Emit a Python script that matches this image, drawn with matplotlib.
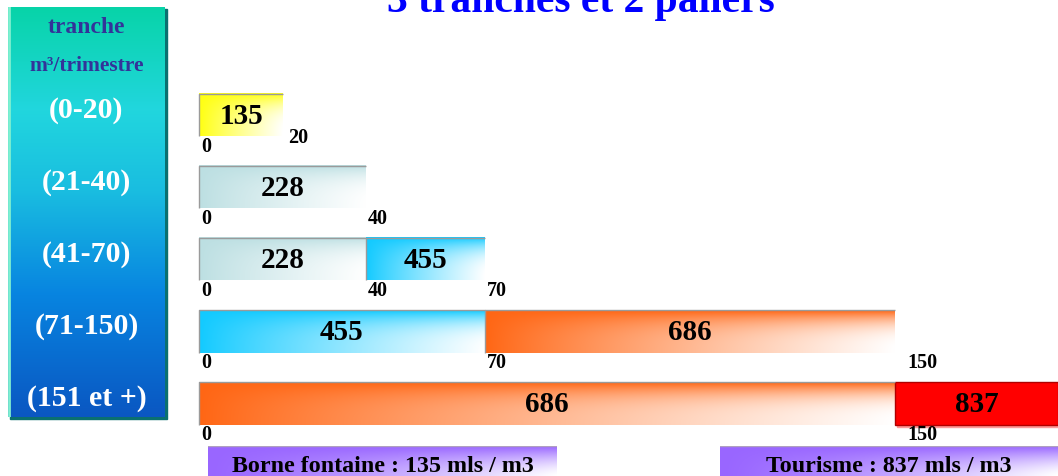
import numpy as np
import matplotlib
matplotlib.use("Agg")
import matplotlib.pyplot as plt
from matplotlib.transforms import BboxTransformTo, TransformedBbox, blended_transform_factory, offset_copy
from matplotlib.colors import to_rgb

plt.rcParams['font.family'] = ['Liberation Serif', 'DejaVu Serif']
plt.rcParams['font.weight'] = 'bold'

# ---------------- data ----------------
title = "3 tranches et 2 paliers"
header = ["tranche", "m³/trimestre"]
categories = ["(0-20)", "(21-40)", "(41-70)", "(71-150)", "(151 et +)"]

# segments per row: start, end (m3/trimestre), price label
seg_start = [[0], [0], [0, 40], [0, 70], [0, 150]]
seg_end = [[20], [40], [40, 70], [70, 150], [150, 190]]
seg_price = [[135], [228], [228, 455], [455, 686], [686, 837]]
seg_kind = [["t0"], ["t1"], ["t1", "t2"], ["t2", "t3"], ["t3", "tour"]]
row_ticks = [[0, 20], [0, 40], [0, 40, 70], [0, 70, 150], [0, 150]]
paliers = ["Borne fontaine : 135 mls / m3", "Tourisme : 837 mls / m3"]

# ---------------- style ----------------
kind_color = {"t0": "#ffff10", "t1": "#bcdfe2", "t2": "#12caff",
              "t3": "#ff6614", "tour": "#ff0000"}
# display scale (the picture is not proportional): breakpoints -> relative position
scale_in = [-50, 0, 20, 40, 70, 150, 190]
scale_out = [0, 199, 283, 366, 485, 895, 1058]

W, H = 1058, 477
fig = plt.figure(figsize=(W / 100, H / 100), dpi=100)
ax = fig.add_axes([0, 0, 1, 1])
ax.set_xscale('function', functions=(lambda x: np.interp(x, scale_in, scale_out),
                                     lambda p: np.interp(p, scale_out, scale_in)))
row_px0, row_step = 116, 72.1
ax.set_xlim(scale_in[0], scale_in[-1])
ax.set_ylim((H - row_px0) / row_step, -row_px0 / row_step)
ax.axis('off')


def gradient(color, n=60, m=200, pu=0.9, vpow=3, strength=1.0):
    c = np.array(to_rgb(color))
    v = np.linspace(0, 1, n)[:, None]
    u = np.linspace(0, 1, m)[None, :]
    w = np.clip((u ** pu) * (1 - (1 - v) ** vpow) * strength, 0, 1)[..., None]
    return c * (1 - w) + np.ones(3) * w


bar_h = 0.59
for i in range(len(categories)):
    for s, e, p, k in zip(seg_start[i], seg_end[i], seg_price[i], seg_kind[i]):
        rect = ax.barh(i, e - s, left=s, height=bar_h, color='none',
                       edgecolor='none')[0]
        tr = BboxTransformTo(TransformedBbox(rect.get_bbox(), ax.transData))
        if k == "tour":
            ax.add_patch(plt.Rectangle((0.012, -0.06), 1, 1, transform=tr,
                                       color='#ff9a9a', zorder=1))
            ax.add_patch(plt.Rectangle((0, 0), 1, 1, transform=tr,
                                       facecolor='#ff0000', edgecolor='#b00000',
                                       lw=1.0, zorder=2))
        else:
            ax.imshow(gradient(kind_color[k]), extent=(0, 1, 0, 1), origin='upper',
                      transform=tr, aspect='auto', interpolation='bilinear', zorder=2)
            ax.plot([0, 0, 1], [0, 1, 1], transform=tr, color='#9a9a9a', lw=1.0,
                    zorder=3, solid_capstyle='butt')
        ax.text(0.5, 0.5, str(p), transform=tr, ha='center', va='center',
                fontsize=21, color='black', zorder=4)
    for t in row_ticks[i]:
        dx = 12 if t == 150 else (5 if t == 20 else 2)
        dy = 0.31 if t == 20 else 0.43
        off = offset_copy(ax.transData, fig=fig, x=dx, y=0, units='dots')
        ax.text(t, i + dy, str(t), transform=off, ha='left', va='center',
                fontsize=14.5, color='black', zorder=4)

ax.set_xlim(scale_in[0], scale_in[-1])
ax.set_ylim((H - row_px0) / row_step, -row_px0 / row_step)

# ---------------- left panel ----------------
px0, py0, pw, ph = 8, 8, 157, 410
shadow = plt.Rectangle(((px0 + 2) / W, (H - py0 - ph - 2) / H), pw / W, ph / H,
                       transform=fig.transFigure, color='#0a7070', zorder=-5)
fig.patches.append(shadow)
pan = fig.add_axes([px0 / W, (H - py0 - ph) / H, pw / W, ph / H], zorder=2)
stops_y = [0.0, 0.25, 0.45, 0.7, 1.0]
stops_c = [(0.03, 0.83, 0.66), (0.13, 0.84, 0.87), (0.1, 0.74, 0.88),
           (0.03, 0.52, 0.88), (0.04, 0.34, 0.76)]
yy = np.linspace(0, 1, 300)
col = np.stack([np.interp(yy, stops_y, [c[j] for c in stops_c]) for j in range(3)], axis=-1)
pan.imshow(col[:, None, :], extent=(0, 1, 0, 1), aspect='auto', origin='upper',
           interpolation='bilinear')
pan.plot([0.004, 0.004], [0, 1], color='#80f0d0', lw=2)
pan.set_xlim(0, 1)
pan.set_ylim(0, 1)
pan.axis('off')
pan.text(0.5, 0.953, header[0], transform=pan.transAxes, ha='center', va='center',
         fontsize=17, color='#333399')
pan.text(0.5, 0.858, header[1], transform=pan.transAxes, ha='center', va='center',
         fontsize=15.5, color='#333399')
blend = blended_transform_factory(pan.transAxes, ax.transData)
for i, c in enumerate(categories):
    pan.text(0.5, i - 0.08, c, transform=blend, ha='center', va='center',
             fontsize=21.5, color='white')

# ---------------- palier boxes ----------------
for (bx0, bx1), lab in zip([(208, 557), (720, 1058)], paliers):
    b = fig.add_axes([bx0 / W, 0, (bx1 - bx0) / W, (H - 447) / H])
    b.imshow(gradient('#9966ff', pu=1.3, vpow=1.5, strength=1.0), extent=(0, 1, 0, 1),
             origin='upper', aspect='auto', interpolation='bilinear')
    b.plot([0, 1], [0.99, 0.99], color='#b0a0c0', lw=1)
    b.set_xlim(0, 1)
    b.set_ylim(0, 1)
    b.axis('off')
    b.text(0.5, 0.36, lab, transform=b.transAxes, ha='center', va='center',
           fontsize=17.3, color='black')

fig.text(581 / W, 1 - 12 / H, title, ha='center', va='baseline', fontsize=30,
         color='#0000ff')

fig.savefig("out.png", dpi=100)
